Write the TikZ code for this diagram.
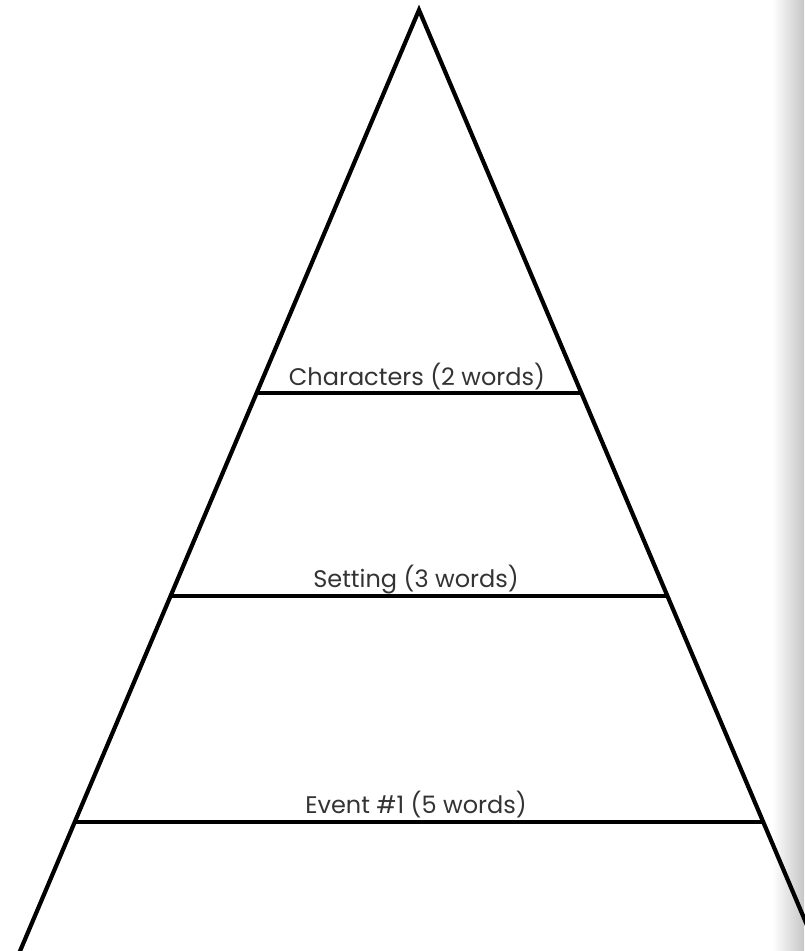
\documentclass[tikz,border=0pt]{standalone}
\usepackage{fontspec}
\setmainfont{Poppins}
\usepackage{xcolor}
\usetikzlibrary{calc}

\begin{document}
\begin{tikzpicture}[x=1pt, y=-1pt, line width=4.2pt,
  level/.style={font=\fontsize{24}{28}\selectfont, text=black!80, anchor=base, inner sep=0pt}]
\useasboundingbox (0,0) rectangle (804,951);
% page edge shadow
\shade[left color=white, right color=black!22, draw=none] (772,0) rectangle (804,951);
% pyramid
\coordinate (apex) at (419,10);
\coordinate (left) at (12,970);
\coordinate (right) at (826,970);
\draw[line join=miter] (left) -- (apex) -- (right);
% levels
\coordinate (cl) at ($(apex)!0.399!(left)$);
\coordinate (cr) at ($(apex)!0.399!(right)$);
\coordinate (sl) at ($(apex)!0.610!(left)$);
\coordinate (sr) at ($(apex)!0.610!(right)$);
\coordinate (el) at ($(apex)!0.846!(left)$);
\coordinate (er) at ($(apex)!0.846!(right)$);
\draw (cl) -- (cr);
\draw (sl) -- (sr);
\draw (el) -- (er);
\node[level] (characters) at (417,385) {Characters (2 words)};
\node[level] (setting) at (416,587) {Setting (3 words)};
\node[level] (event) at (416,813) {Event \#1 (5 words)};
\end{tikzpicture}
\end{document}
